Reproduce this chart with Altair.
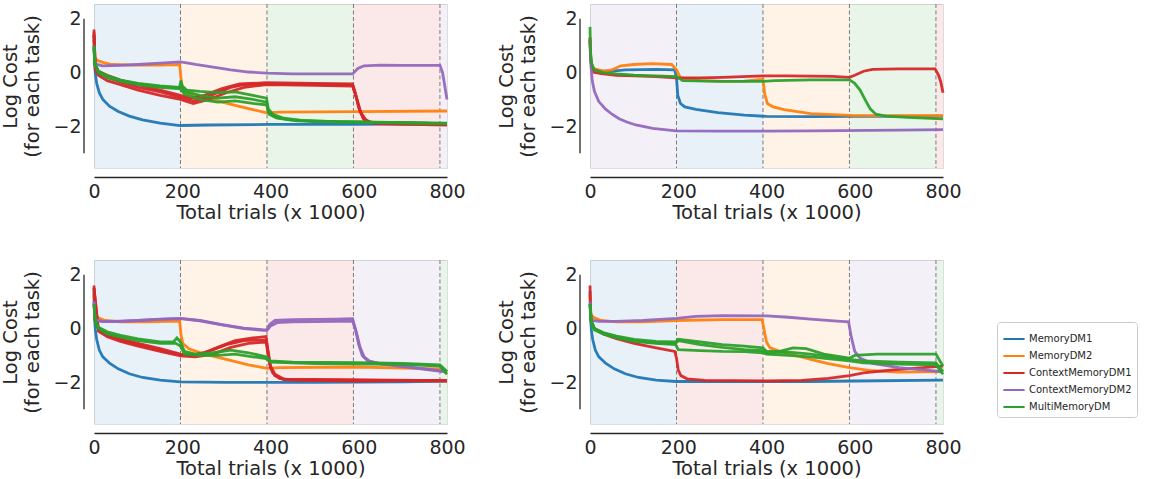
import altair as alt
import pandas as pd

# ---------------- categories / styles ----------------
TASKS = ["MemoryDM1", "MemoryDM2", "ContextMemoryDM1", "ContextMemoryDM2", "MultiMemoryDM"]
COLORS = ["#1f77b4", "#ff7f0e", "#d62728", "#9467bd", "#2ca02c"]
BOUNDS = [0, 196, 392, 588, 784, 800]
DASHES = [196, 392, 588, 784]
XTICKS = [0, 200, 400, 600, 800]
YTICKS = [-2, 0, 2]

# training order (shaded background) per panel
SEQ_TL = ["MemoryDM1", "MemoryDM2", "MultiMemoryDM", "ContextMemoryDM1", "ContextMemoryDM2"]
SEQ_TR = ["ContextMemoryDM2", "MemoryDM1", "MemoryDM2", "MultiMemoryDM", "ContextMemoryDM1"]
SEQ_BL = ["MemoryDM1", "MemoryDM2", "ContextMemoryDM1", "ContextMemoryDM2", "MultiMemoryDM"]
SEQ_BR = ["MemoryDM1", "ContextMemoryDM1", "MemoryDM2", "ContextMemoryDM2", "MultiMemoryDM"]

# ---------------- curves: (trials x1000, log cost) ----------------
# top-left
TL_MDM1 = [(0, 1.4), (1, 0.5), (3, -0.05), (6, -0.4), (12, -0.75), (20, -1.0), (35, -1.25), (55, -1.45),
           (80, -1.62), (110, -1.76), (150, -1.88), (195, -1.97), (260, -1.95), (400, -1.93), (600, -1.93), (800, -1.9)]
TL_MDM2 = [(0, 1.2), (2, 0.55), (8, 0.45), (20, 0.38), (40, 0.3), (100, 0.28), (150, 0.28), (194, 0.3), (197, -0.2),
           (200, -0.55), (210, -0.75), (240, -0.9), (280, -1.05), (320, -1.22), (360, -1.38), (392, -1.5), (420, -1.47),
           (600, -1.45), (800, -1.43)]
TL_CMDM1_A = [(0, 1.6), (1, 0.6), (3, 0.2), (10, 0.0), (30, -0.18), (60, -0.35), (100, -0.55), (150, -0.72), (196, -0.92),
              (225, -1.05), (250, -0.95), (280, -0.75), (310, -0.55), (340, -0.45), (392, -0.42), (500, -0.44), (586, -0.45),
              (594, -0.9), (602, -1.4), (612, -1.75), (630, -1.88), (700, -1.92), (800, -1.92)]
TL_CMDM1_B = [(0, 1.5), (3, 0.1), (10, -0.1), (30, -0.3), (60, -0.45), (100, -0.65), (150, -0.85), (196, -1.0),
              (225, -1.15), (260, -1.0), (300, -0.75), (340, -0.55), (392, -0.45), (500, -0.48), (586, -0.5),
              (596, -1.0), (605, -1.5), (618, -1.8), (640, -1.9), (800, -1.95)]
TL_CMDM1_C = [(0, 1.4), (3, 0.25), (10, 0.05), (30, -0.1), (60, -0.28), (100, -0.45), (150, -0.65), (196, -0.85),
              (220, -0.95), (250, -0.85), (290, -0.6), (330, -0.42), (392, -0.38), (500, -0.4), (586, -0.42),
              (593, -0.8), (600, -1.3), (610, -1.7), (625, -1.85), (800, -1.9)]
TL_CMDM2 = [(0, 1.0), (2, 0.4), (6, 0.3), (20, 0.25), (60, 0.27), (100, 0.3), (150, 0.35), (196, 0.4), (230, 0.3),
            (270, 0.2), (310, 0.1), (350, 0.02), (392, -0.02), (450, -0.05), (586, -0.05), (598, 0.15), (612, 0.25),
            (650, 0.28), (700, 0.27), (784, 0.27), (790, 0.0), (796, -0.6), (800, -1.0)]
TL_MULTI_A = [(0, 1.0), (2, 0.35), (10, 0.05), (30, -0.12), (60, -0.28), (100, -0.4), (150, -0.5), (194, -0.55),
              (197, -0.3), (200, -0.5), (210, -0.65), (240, -0.7), (280, -0.75), (320, -0.72), (360, -0.85), (391, -0.95),
              (395, -1.35), (405, -1.55), (430, -1.7), (470, -1.78), (550, -1.83), (800, -1.88)]
TL_MULTI_B = [(0, 0.9), (2, 0.3), (10, 0.0), (30, -0.18), (60, -0.32), (100, -0.45), (150, -0.55), (194, -0.6),
              (197, -0.45), (205, -0.7), (240, -0.85), (280, -0.95), (320, -0.9), (360, -1.0), (391, -1.1),
              (396, -1.5), (410, -1.65), (440, -1.75), (500, -1.82), (800, -1.9)]
TL_MULTI_C = [(0, 0.9), (2, 0.3), (10, 0.02), (30, -0.15), (60, -0.3), (100, -0.42), (150, -0.52), (194, -0.57),
              (205, -0.8), (240, -1.0), (280, -1.1), (320, -1.05), (360, -1.15), (391, -1.2), (397, -1.55),
              (415, -1.7), (460, -1.8), (800, -1.9)]

# top-right
TR_MDM1 = [(0, 1.2), (2, 0.4), (6, 0.15), (20, 0.05), (50, 0.05), (80, 0.1), (150, 0.12), (192, 0.1), (196, -0.2),
           (199, -0.85), (205, -1.15), (215, -1.28), (240, -1.37), (290, -1.49), (350, -1.58), (400, -1.63),
           (500, -1.64), (600, -1.63), (800, -1.62)]
TR_MDM2 = [(0, 1.3), (2, 0.4), (8, 0.15), (30, 0.05), (50, 0.1), (70, 0.25), (100, 0.3), (140, 0.33), (185, 0.3),
           (196, 0.1), (205, -0.2), (250, -0.3), (300, -0.33), (350, -0.32), (392, -0.25), (396, -0.8), (402, -1.15),
           (415, -1.28), (440, -1.38), (500, -1.53), (600, -1.6), (800, -1.6)]
TR_CMDM1 = [(0, 1.3), (1, 0.6), (4, 0.15), (10, 0.0), (30, -0.05), (60, -0.1), (100, -0.12), (150, -0.15), (196, -0.2),
            (250, -0.2), (300, -0.18), (392, -0.12), (450, -0.12), (550, -0.14), (588, -0.18), (600, -0.1), (620, 0.05),
            (640, 0.12), (700, 0.14), (782, 0.14), (790, -0.1), (795, -0.35), (800, -0.75)]
TR_CMDM2 = [(0, 1.2), (2, 0.3), (5, -0.3), (10, -0.7), (20, -1.08), (36, -1.37), (50, -1.55), (66, -1.72), (85, -1.85),
            (104, -1.95), (142, -2.08), (195, -2.17), (300, -2.18), (500, -2.17), (700, -2.14), (800, -2.12)]
TR_MULTI = [(0, 1.7), (1, 0.8), (4, 0.3), (10, 0.1), (30, 0.0), (60, -0.05), (100, -0.1), (150, -0.12), (196, -0.15),
            (210, -0.3), (300, -0.33), (392, -0.33), (420, -0.3), (500, -0.27), (588, -0.27), (600, -0.4), (612, -0.65),
            (625, -1.05), (635, -1.35), (648, -1.55), (670, -1.62), (720, -1.67), (800, -1.72)]

# bottom-left
BL_MDM1 = [(0, 1.4), (1, 0.5), (3, -0.05), (6, -0.4), (12, -0.8), (20, -1.05), (36, -1.3), (55, -1.5), (80, -1.68),
           (110, -1.82), (150, -1.92), (195, -1.98), (300, -2.0), (500, -2.0), (700, -1.98), (800, -1.95)]
BL_MDM2 = [(0, 1.3), (2, 0.5), (10, 0.4), (25, 0.3), (60, 0.25), (120, 0.25), (194, 0.28), (197, -0.2), (201, -0.55),
           (215, -0.75), (250, -0.95), (300, -1.15), (350, -1.35), (392, -1.48), (420, -1.45), (600, -1.43),
           (700, -1.47), (784, -1.5), (800, -1.6)]
BL_CMDM1_A = [(0, 1.6), (2, 0.3), (10, 0.0), (30, -0.2), (60, -0.38), (100, -0.55), (150, -0.75), (196, -0.95),
              (220, -1.0), (250, -0.9), (280, -0.7), (320, -0.45), (360, -0.35), (390, -0.3), (393, -0.7), (398, -1.3),
              (405, -1.65), (420, -1.85), (450, -1.92), (600, -1.95), (800, -1.93)]
BL_CMDM1_B = [(0, 1.5), (10, -0.1), (30, -0.3), (60, -0.48), (100, -0.65), (150, -0.85), (196, -1.02), (230, -1.05),
              (270, -0.95), (310, -0.7), (350, -0.55), (390, -0.5), (394, -0.9), (400, -1.45), (410, -1.75),
              (430, -1.9), (800, -1.95)]
BL_CMDM1_C = [(0, 1.5), (10, -0.05), (30, -0.25), (60, -0.42), (100, -0.6), (150, -0.8), (196, -0.98), (225, -1.0),
              (260, -0.85), (300, -0.6), (340, -0.45), (390, -0.42), (394, -0.8), (400, -1.4), (410, -1.7),
              (430, -1.88), (800, -1.94)]
BL_CMDM2_A = [(0, 1.0), (2, 0.4), (6, 0.3), (20, 0.27), (60, 0.28), (100, 0.3), (150, 0.35), (196, 0.38), (240, 0.3),
              (290, 0.15), (340, 0.02), (385, -0.05), (392, -0.05), (398, 0.15), (410, 0.3), (450, 0.33), (550, 0.35),
              (586, 0.37), (592, 0.0), (600, -0.6), (608, -1.0), (620, -1.2), (650, -1.3), (700, -1.4), (750, -1.5),
              (800, -1.6)]
BL_CMDM2_B = [(0, 1.0), (2, 0.4), (6, 0.3), (20, 0.26), (60, 0.27), (100, 0.3), (150, 0.34), (196, 0.37), (240, 0.29),
              (290, 0.14), (340, 0.0), (385, -0.07), (392, -0.07), (400, 0.1), (415, 0.22), (450, 0.25), (550, 0.27),
              (586, 0.28), (594, -0.1), (603, -0.7), (612, -1.05), (625, -1.22), (650, -1.32), (700, -1.42),
              (750, -1.52), (800, -1.62)]
BL_MULTI_A = [(0, 0.9), (3, 0.3), (10, 0.05), (30, -0.12), (60, -0.25), (100, -0.38), (150, -0.5), (180, -0.5),
              (188, -0.35), (196, -0.5), (205, -0.85), (230, -0.95), (270, -0.9), (310, -0.8), (350, -0.9),
              (390, -1.05), (400, -1.2), (450, -1.25), (600, -1.27), (700, -1.3), (784, -1.35), (800, -1.6)]
BL_MULTI_B = [(0, 0.9), (3, 0.25), (10, 0.0), (30, -0.2), (60, -0.32), (100, -0.45), (150, -0.55), (185, -0.55),
              (196, -0.65), (205, -0.95), (240, -1.0), (280, -1.0), (320, -0.95), (360, -1.05), (390, -1.12),
              (400, -1.25), (500, -1.3), (700, -1.33), (784, -1.4), (800, -1.7)]

# bottom-right
BR_MDM1 = [(0, 1.4), (1, 0.5), (3, -0.05), (6, -0.4), (12, -0.8), (20, -1.05), (36, -1.3), (55, -1.5), (80, -1.68),
           (110, -1.82), (150, -1.92), (195, -1.97), (300, -1.97), (500, -1.97), (600, -1.95), (800, -1.92)]
BR_MDM2 = [(0, 1.3), (2, 0.5), (10, 0.4), (25, 0.3), (60, 0.25), (120, 0.25), (196, 0.3), (300, 0.33), (390, 0.33),
           (394, 0.0), (400, -0.5), (408, -0.72), (430, -0.85), (460, -0.97), (500, -1.15), (540, -1.3), (588, -1.45),
           (640, -1.57), (700, -1.62), (800, -1.6)]
BR_CMDM1 = [(0, 1.6), (2, 0.3), (10, 0.0), (30, -0.2), (60, -0.38), (100, -0.55), (150, -0.72), (192, -0.85),
            (196, -1.1), (200, -1.55), (206, -1.75), (220, -1.87), (260, -1.93), (400, -1.95), (480, -1.93),
            (540, -1.85), (588, -1.75), (620, -1.65), (680, -1.55), (740, -1.47), (800, -1.4)]
BR_CMDM2 = [(0, 1.0), (2, 0.4), (6, 0.3), (20, 0.27), (60, 0.27), (120, 0.3), (196, 0.38), (240, 0.45), (300, 0.48),
            (400, 0.47), (450, 0.42), (500, 0.35), (560, 0.28), (586, 0.25), (592, -0.3), (600, -0.85), (612, -1.1),
            (640, -1.3), (700, -1.45), (760, -1.55), (800, -1.6)]
BR_MULTI_A = [(0, 0.9), (3, 0.3), (10, 0.0), (30, -0.15), (60, -0.28), (100, -0.4), (150, -0.48), (194, -0.5),
              (200, -0.4), (250, -0.5), (300, -0.6), (350, -0.65), (392, -0.72), (400, -0.85), (430, -0.85),
              (460, -0.72), (490, -0.75), (530, -0.95), (588, -1.1), (600, -1.0), (650, -0.95), (784, -0.95),
              (800, -1.4)]
BR_MULTI_B = [(0, 0.9), (3, 0.2), (10, -0.05), (30, -0.2), (60, -0.35), (100, -0.48), (150, -0.55), (194, -0.6),
              (200, -0.78), (250, -0.82), (300, -0.85), (350, -0.86), (392, -0.9), (400, -0.95), (450, -1.0),
              (500, -1.05), (588, -1.2), (620, -1.28), (700, -1.32), (784, -1.35), (800, -1.7)]
BR_MULTI_C = [(0, 0.9), (3, 0.25), (10, 0.0), (30, -0.18), (60, -0.3), (100, -0.45), (150, -0.53), (194, -0.55),
              (200, -0.45), (250, -0.6), (300, -0.7), (350, -0.78), (392, -0.82), (400, -0.9), (450, -0.88),
              (500, -0.95), (588, -1.15), (620, -1.2), (700, -1.25), (784, -1.28), (800, -1.6)]

PANELS = [
    (SEQ_TL, {"MemoryDM1": [TL_MDM1], "MemoryDM2": [TL_MDM2],
              "ContextMemoryDM1": [TL_CMDM1_A, TL_CMDM1_B, TL_CMDM1_C], "ContextMemoryDM2": [TL_CMDM2],
              "MultiMemoryDM": [TL_MULTI_A, TL_MULTI_B, TL_MULTI_C]}),
    (SEQ_TR, {"MemoryDM1": [TR_MDM1], "MemoryDM2": [TR_MDM2], "ContextMemoryDM1": [TR_CMDM1],
              "ContextMemoryDM2": [TR_CMDM2], "MultiMemoryDM": [TR_MULTI]}),
    (SEQ_BL, {"MemoryDM1": [BL_MDM1], "MemoryDM2": [BL_MDM2],
              "ContextMemoryDM1": [BL_CMDM1_A, BL_CMDM1_B, BL_CMDM1_C],
              "ContextMemoryDM2": [BL_CMDM2_A, BL_CMDM2_B], "MultiMemoryDM": [BL_MULTI_A, BL_MULTI_B]}),
    (SEQ_BR, {"MemoryDM1": [BR_MDM1], "MemoryDM2": [BR_MDM2], "ContextMemoryDM1": [BR_CMDM1],
              "ContextMemoryDM2": [BR_CMDM2], "MultiMemoryDM": [BR_MULTI_A, BR_MULTI_B, BR_MULTI_C]}),
]

FONT = "DejaVu Sans"
INK = "#262626"
W, H = 353, 164
COLOR_OF = dict(zip(TASKS, COLORS))

xscale = alt.Scale(domain=[0, 800], nice=False, zero=False)
yscale = alt.Scale(domain=[-3.55, 2.55], nice=False, zero=False)
cscale = alt.Scale(domain=TASKS, range=COLORS)

LEGEND = alt.Legend(title=None, orient="none", legendX=903, legendY=318,
                    symbolType="stroke", symbolStrokeWidth=2, symbolSize=450, symbolOpacity=1,
                    labelFontSize=10, labelColor=INK, labelFont=FONT,
                    strokeColor="#cccccc", fillColor="white", padding=5,
                    cornerRadius=3, rowPadding=0, labelOffset=3)

xaxis = alt.Axis(values=XTICKS, title="Total trials (x 1000)", offset=9, domainColor=INK, domainWidth=1.3,
                 ticks=False, tickSize=0, labelPadding=5, labelFontSize=19, titleFontSize=19.5,
                 titleFontWeight="normal", titlePadding=2, labelColor=INK, titleColor=INK, grid=False,
                 labelFlush=False, labelOverlap=False, format="d")
yaxis = alt.Axis(values=YTICKS, title=["Log Cost", "(for each task)"], offset=10, domain=False, ticks=False,
                 tickSize=0, labelPadding=3, labelFontSize=19, titleFontSize=19.5, titleFontWeight="normal",
                 titlePadding=10, titleLineHeight=22, labelColor=INK, titleColor=INK, grid=False)


def make_panel(seq, curves):
    rows = []
    for task in TASKS:
        for i, run in enumerate(curves[task]):
            for x, y in run:
                rows.append({"x": x, "y": y, "task": task, "run": f"{task}-{i}"})
    df = pd.DataFrame(rows)
    shade = pd.DataFrame({"x0": BOUNDS[:-1], "x1": BOUNDS[1:], "task": seq,
                          "shade": [COLOR_OF[t] for t in seq]})
    dash = pd.DataFrame({"x": DASHES})

    rect = alt.Chart(shade).mark_rect(opacity=0.1).encode(
        x=alt.X("x0:Q", scale=xscale, axis=xaxis), x2="x1:Q",
        fill=alt.Fill("shade:N", scale=None))
    vlines = alt.Chart(dash).mark_rule(color="#7a7a7a", strokeDash=[4, 2.5], strokeWidth=1).encode(
        x=alt.X("x:Q", scale=xscale))
    spine = alt.Chart(pd.DataFrame({"a": [-3], "b": [2]})).mark_rule(color=INK, strokeWidth=1.3).encode(
        x=alt.value(-10), y=alt.Y("a:Q", scale=yscale), y2="b:Q")
    lines = alt.Chart(df).mark_line(strokeWidth=2.8, opacity=0.95).encode(
        x=alt.X("x:Q", scale=xscale),
        y=alt.Y("y:Q", scale=yscale, axis=yaxis),
        color=alt.Color("task:N", scale=cscale, legend=LEGEND),
        detail="run:N")
    return alt.layer(rect, vlines, spine, lines).properties(width=W, height=H)


panels = [make_panel(seq, curves) for seq, curves in PANELS]
chart = alt.concat(*panels, columns=2, spacing={"row": 92, "column": 143}, bounds="flush").properties(
    padding={"left": 0, "top": 3, "right": 0, "bottom": 0}
).configure_view(stroke=None).configure(font=FONT)

chart.save("out.html", embed_options={"renderer": "svg", "actions": False})
